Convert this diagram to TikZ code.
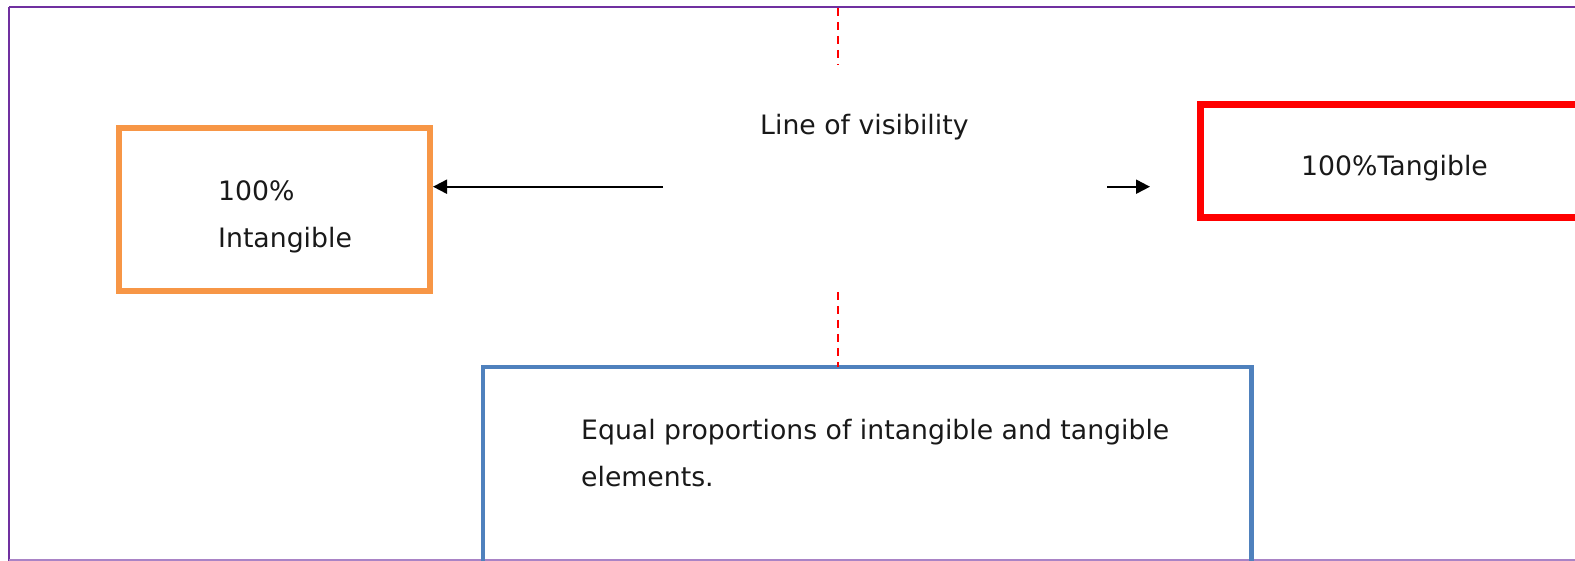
\documentclass[tikz,border=0pt]{standalone}
\usepackage{fontspec}
\setmainfont{DejaVu Sans}
\usetikzlibrary{arrows.meta}
\definecolor{framepurple}{HTML}{7030A0}
\definecolor{boxorange}{HTML}{F79646}
\definecolor{boxred}{HTML}{FF0000}
\definecolor{boxblue}{HTML}{4F81BD}
\tikzset{
  lbl/.style={anchor=base west, inner sep=0pt, font=\fontsize{26.7}{31}\selectfont, text=black!90},
  boxshape/.style={draw, rectangle, inner sep=0pt},
  arr/.style={draw=black, line width=2pt, -{Triangle[length=14pt,width=14pt]}},
  visline/.style={draw=boxred, line width=2pt, dash pattern=on 8.3pt off 5.7pt},
}
\begin{document}
\begin{tikzpicture}[x=1pt,y=-1pt]
\useasboundingbox (0,0) rectangle (1575,561);
\clip (0,0) rectangle (1575,561);
\fill[white] (0,0) rectangle (1575,561);
% frame
\draw[framepurple, line width=2.2pt] (9,7) -- (1590,7);
\draw[framepurple, line width=2.2pt] (9,7) -- (9,600);
\draw[framepurple!60, line width=2.2pt] (9,560) -- (1590,560);
% boxes
\node[boxshape, draw=boxorange, line width=6pt, minimum width=311.5pt, minimum height=163pt] (ob) at (274.25,210) {};
\node[boxshape, draw=boxred, line width=7pt, minimum width=400pt, minimum height=113.3pt] (rb) at (1400.5,160.7) {};
\node[boxshape, draw=boxblue, line width=4.5pt, minimum width=768.5pt, minimum height=233pt] (bb) at (867.25,483.5) {};
% texts
\node[lbl] (t1) at (218,200.7) {100\%};
\node[lbl] (t2) at (218,248) {Intangible};
\node[lbl] (vis) at (760,135) {Line of visibility};
\node[lbl] (t3) at (1301,176) {100\%Tangible};
\node[lbl] (t4) at (581,439) {Equal proportions of intangible and tangible};
\node[lbl] (t5) at (581,486) {elements.};
% arrows
\coordinate (la) at (663,186.7);
\draw[arr] (la) -- (la -| ob.east);
\coordinate (ra) at (1107,186.7);
\coordinate (rt) at (1150,186.7);
\draw[arr] (ra) -- (rt);
% line of visibility
\coordinate (v1) at (838,8);
\coordinate (v2) at (838,65);
\coordinate (v3) at (838,292);
\draw[visline] (v1) -- (v2);
\draw[visline] (v3) -- ([yshift=-2.25pt]v3 |- bb.north);
\end{tikzpicture}
\end{document}
